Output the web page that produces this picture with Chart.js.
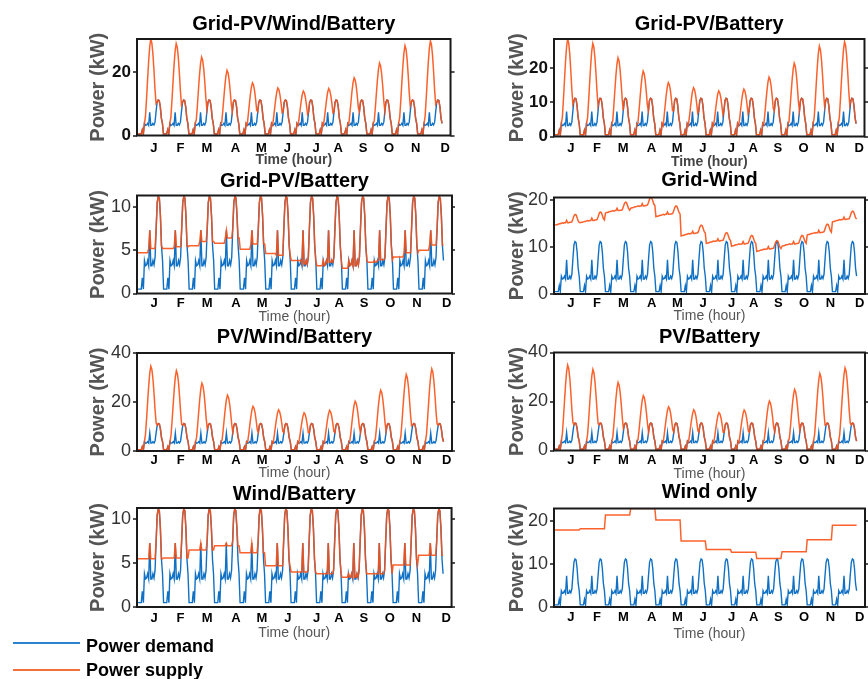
<!DOCTYPE html>
<html>
<head>
<meta charset="utf-8">
<script src="https://cdn.jsdelivr.net/npm/chart.js@4.4.0/dist/chart.umd.min.js"></script>
<style>
  html, body { margin: 0; padding: 0; background: #fff; }
  #page { position: relative; width: 868px; height: 679px; overflow: hidden; }
  .box { position: absolute; }
  .legLine { position: absolute; left: 13px; width: 67px; height: 0; border-top: 2px solid; }
  .legTxt { position: absolute; left: 86px; white-space: nowrap;
    font: bold 18px "Liberation Sans", Arial, sans-serif; line-height: 18px; color: #000; }
</style>
</head>
<body>
<div id="page"></div>
<script>
// one representative day (24 h) per month
const months = ['J', 'F', 'M', 'A', 'M', 'J', 'J', 'A', 'S', 'O', 'N', 'D'];
const monthTicks = [16, 41, 66, 93, 117.5, 142, 169, 190, 213.5, 238, 263, 291];

// hourly demand, same day every month (kW)
const demandDay = [0.5, 0.5, 0.5, 0.5, 1.8, 0.5, 3.8, 3.2, 3.3, 3.8, 3.2, 7.3,
                   3.2, 3.2, 3.8, 3.3, 4.2, 7.5, 10.5, 11.2, 11.0, 9.0, 5.5, 3.8];

// PV output over the day, share of the month's peak
const pvDay = [0, 0, 0, 0, 0, 0, 0.08, 0.2, 0.38, 0.58, 0.77, 0.92,
               1.0, 0.96, 0.85, 0.68, 0.48, 0.33, 0.15, 0.04, 0, 0, 0, 0];

// monthly PV peaks (kW)
const pvPeakGridPvWindBatt = [30.4, 29.0, 24.7, 20.5, 16.6, 15.0, 14.0, 14.8, 18.2, 22.8, 28.3, 29.8];
const pvPeakGridPvBatt = [28.6, 27.3, 23.1, 19.2, 15.8, 14.3, 13.4, 13.9, 17.4, 21.5, 26.5, 27.8];
const pvPeakPvWindBatt = [34.6, 32.8, 27.7, 22.8, 18.2, 16.8, 15.6, 16.6, 20.3, 24.8, 31.2, 33.5];
const pvPeakPvBatt = [34.9, 33.1, 27.8, 22.4, 17.8, 16.6, 15.5, 16.5, 20.2, 24.9, 31.4, 33.7];

// Grid-PV/Battery (second run): supply floor, morning / afternoon
const gridBattAm = [4.7, 5.2, 5.5, 5.8, 5.1, 4.6, 3.8, 3.2, 2.9, 3.6, 4.2, 5.0];
const gridBattPm = [5.2, 5.4, 6.0, 6.4, 5.7, 4.4, 3.4, 3.6, 3.2, 3.9, 4.7, 5.6];

// Grid-Wind: monthly base and hourly rise over the day
const gridWindBase = [14.7, 15.2, 17.3, 18.3, 16.5, 12.4, 10.8, 10.2, 9.1, 10.2, 12.6, 15.4];
const gridWindDay = [0, 0.1, 0.1, 0.2, 0.3, 0.3, 0.4, 0.5, 0.4, 0.5, 0.5, 1.0,
                     0.5, 0.5, 0.6, 0.6, 0.7, 1.3, 2.0, 2.3, 2.2, 1.6, 0.9, 0.6];

// wind supply levels per month
const windBattLevel = [5.5, 5.6, 6.5, 7.0, 6.2, 4.7, 4.0, 3.8, 3.4, 3.8, 4.8, 5.9];
const windOnlyLevel = [18.0, 18.3, 21.5, 23.0, 20.3, 15.4, 13.4, 12.8, 11.3, 12.9, 15.7, 19.1];

// series builders
function byHour(fn) {
  const out = [];
  months.forEach((_, m) => demandDay.forEach((d, h) => out.push(fn(m, h, d))));
  return out;
}
const demand = byHour((m, h, d) => d);
const pvSupply = peaks => byHour((m, h, d) => Math.max(d, peaks[m] * pvDay[h]));
const floorSupply = (am, pm) => byHour((m, h, d) => Math.max(d, h < 10 ? am[m] : pm[m]));
const levelSupply = lvl => byHour((m, h, d) => Math.max(d, lvl[m]));
const gridWindSupply = byHour((m, h) => gridWindBase[m] + gridWindDay[h]);

const blue = '#1071C4';
const orange = 'rgba(250, 80, 20, 0.9)';
const fontFam = '"Liberation Sans", Arial, sans-serif';

const cols = [
  {left: 84, right: 455, plotL: 137, plotR: 452, yTitleX: 98.5},
  {left: 503, right: 868, plotL: 554, plotR: 865, yTitleX: 517.5}
];

const panels = [
  {title: 'Grid-PV/Wind/Battery', supply: pvSupply(pvPeakGridPvWindBatt), yMax: 30.4, yStep: 20, col: 0,
   top: 39, bottom: 135.5, titleY: 24, tickPad: 5, xTitleY: 160, heavy: true},
  {title: 'Grid-PV/Battery', supply: pvSupply(pvPeakGridPvBatt), yMax: 28.6, yStep: 10, col: 1,
   top: 39, bottom: 136.5, titleY: 24, tickPad: 4, xTitleY: 162, heavy: true},
  {title: 'Grid-PV/Battery', supply: floorSupply(gridBattAm, gridBattPm), yMax: 11.3, yStep: 5, col: 0,
   top: 195, bottom: 293, titleY: 180.5, tickPad: 2, xTitleY: 316.5},
  {title: 'Grid-Wind', supply: gridWindSupply, yMax: 20.6, yStep: 10, col: 1,
   top: 197.5, bottom: 294, titleY: 180, tickPad: 1.5, xTitleY: 316},
  {title: 'PV/Wind/Battery', supply: pvSupply(pvPeakPvWindBatt), yMax: 40, yStep: 20, col: 0,
   top: 352.5, bottom: 450.5, titleY: 336.5, tickPad: 2, xTitleY: 472.5},
  {title: 'PV/Battery', supply: pvSupply(pvPeakPvBatt), yMax: 40, yStep: 20, col: 1,
   top: 352, bottom: 450, titleY: 336.5, tickPad: 2, xTitleY: 474},
  {title: 'Wind/Battery', supply: levelSupply(windBattLevel), yMax: 11.3, yStep: 5, col: 0,
   top: 507.5, bottom: 606.5, titleY: 493.5, tickPad: 4, xTitleY: 633},
  {title: 'Wind only', supply: levelSupply(windOnlyLevel), yMax: 23, yStep: 10, col: 1,
   top: 508, bottom: 606.5, titleY: 491.5, tickPad: 3, xTitleY: 633.5}
];

// frame, outward y ticks and rotated y title
const framePlugin = {
  id: 'frame',
  afterDraw(chart) {
    const {ctx, chartArea: a} = chart;
    const y = chart.scales.y;
    const c = cols[chart.options.plugins.frame.col];
    ctx.save();
    ctx.strokeStyle = '#1a1a1a';
    ctx.lineWidth = 2;
    ctx.strokeRect(a.left, a.top, a.right - a.left, a.bottom - a.top);
    ctx.lineWidth = 1.5;
    y.ticks.forEach(t => {
      const py = Math.round(y.getPixelForValue(t.value));
      ctx.beginPath();
      ctx.moveTo(a.left - 4, py); ctx.lineTo(a.left, py);
      ctx.moveTo(a.right, py); ctx.lineTo(a.right + 4, py);
      ctx.stroke();
    });
    ctx.translate(c.yTitleX - c.left, (a.top + a.bottom) / 2);
    ctx.rotate(-Math.PI / 2);
    ctx.font = 'bold 20px ' + fontFam;
    ctx.fillStyle = '#555';
    ctx.textAlign = 'center';
    ctx.textBaseline = 'middle';
    ctx.fillText('Power (kW)', 0, 0);
    ctx.restore();
  }
};

const page = document.getElementById('page');
panels.forEach(p => {
  const c = cols[p.col];
  const boxTop = p.titleY - 14;
  const xh = p.xTitleY + 8.4 - p.bottom;
  const box = document.createElement('div');
  box.className = 'box';
  box.style.left = c.left + 'px';
  box.style.top = boxTop + 'px';
  box.style.width = (c.right - c.left) + 'px';
  box.style.height = (p.bottom + xh - boxTop) + 'px';
  const cv = document.createElement('canvas');
  box.appendChild(cv);
  page.appendChild(box);

  new Chart(cv, {
    type: 'line',
    data: {
      datasets: [
        {label: 'Power supply', data: p.supply.map((v, i) => ({x: i + 1, y: v})),
         borderColor: orange, borderWidth: 1.5},
        {label: 'Power demand', data: demand.map((v, i) => ({x: i + 1, y: v})),
         borderColor: blue, borderWidth: 1.4}
      ]
    },
    options: {
      responsive: true,
      maintainAspectRatio: false,
      animation: false,
      layout: {padding: {left: 0, right: c.right - c.plotR, top: 0, bottom: 0}},
      elements: {point: {radius: 0}, line: {tension: 0}},
      plugins: {
        legend: {display: false},
        tooltip: {enabled: false},
        frame: {col: p.col},
        title: {
          display: true, text: p.title, fullSize: false, color: '#000',
          font: {family: fontFam, size: 20, weight: 'bold'},
          padding: {top: 2, bottom: p.top - p.titleY - 12}
        }
      },
      scales: {
        x: {
          type: 'linear', min: 0, max: 296,
          grid: {display: false, drawTicks: false, tickLength: 0}, border: {display: false},
          afterBuildTicks: s => { s.ticks = monthTicks.map(v => ({value: v})); },
          afterFit: s => { s.height = xh; },
          ticks: {
            autoSkip: false, maxRotation: 0, minRotation: 0, padding: p.tickPad,
            color: '#000', font: {family: fontFam, size: 13, weight: 'bold'},
            callback: (v, i) => months[i]
          },
          title: {
            display: true, text: 'Time (hour)', color: p.heavy ? '#444' : '#555',
            padding: 0, font: {family: fontFam, size: 14, weight: p.heavy ? 'bold' : 'normal'}
          }
        },
        y: {
          min: 0, max: p.yMax,
          grid: {display: false, drawTicks: false, tickLength: 0}, border: {display: false},
          afterFit: s => { s.width = c.plotL - c.left; },
          ticks: {
            stepSize: p.yStep, includeBounds: false, padding: 6,
            color: p.heavy ? '#111' : '#333',
            font: {family: fontFam, size: p.heavy ? 17 : 18, weight: p.heavy ? 'bold' : 'normal'}
          }
        }
      }
    },
    plugins: [framePlugin]
  });
});

// legend below the last left panel
[{label: 'Power demand', color: '#2A84D2', lineY: 642, textY: 636.5},
 {label: 'Power supply', color: '#F4703A', lineY: 669, textY: 660.5}]
  .forEach(it => {
    const line = document.createElement('div');
    line.className = 'legLine';
    line.style.top = it.lineY + 'px';
    line.style.borderTopColor = it.color;
    const txt = document.createElement('div');
    txt.className = 'legTxt';
    txt.style.top = it.textY + 'px';
    txt.textContent = it.label;
    page.appendChild(line);
    page.appendChild(txt);
  });
</script>
</body>
</html>
